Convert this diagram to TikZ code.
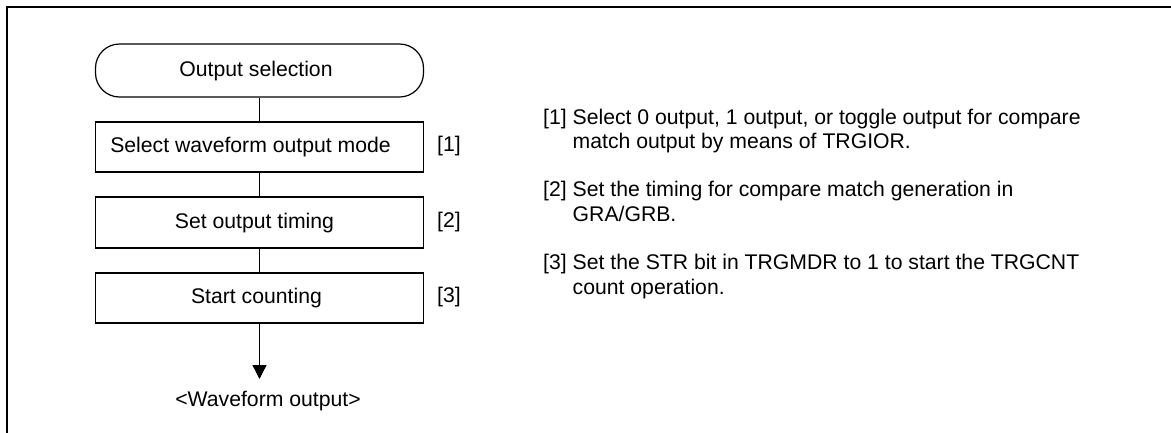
\documentclass[tikz,border=0pt]{standalone}
\usepackage{fontspec}
\setmainfont{Liberation Sans}
\usetikzlibrary{arrows.meta}
\begin{document}
\begin{tikzpicture}[x=1pt,y=-1pt,
  every node/.style={font=\fontsize{21.2}{24}\selectfont, inner sep=0pt},
  box/.style={draw, line width=1.2pt, minimum width=328pt, text height=15.5pt, text depth=4.5pt},
  term/.style={box, rounded corners=24pt, minimum height=53pt},
  stepbox/.style={box, minimum height=50pt},
  conn/.style={line width=1.3pt},
  rtxt/.style={anchor=base west}]
\useasboundingbox (0,0) rectangle (1171,432);
% frame
\draw[line width=1.8pt] (1200,7) -| (7,460);
% flowchart
\node[term] (t0) at (259.5,70.5) {Output selection\hspace*{7pt}};
\node[stepbox] (b1) at (259.5,147) {Select waveform output mode\hspace*{18pt}};
\node[stepbox, minimum height=51pt] (b2) at (259.5,222.5) {Set output timing\hspace*{10pt}};
\node[stepbox] (b3) at (259.5,298) {Start counting\hspace*{6pt}};
\draw[conn] (t0.south) -- (b1.north);
\draw[conn] (b1.south) -- (b2.north);
\draw[conn] (b2.south) -- (b3.north);
\coordinate (tip) at (259.5,379);
\draw[conn,-{Triangle[width=14pt,length=14pt]}] (b3.south) -- (tip);
\node[anchor=base] (wave) at (268,406) {<Waveform output>};
% step labels
\node (l1) at (449,146.5) {[1]};
\node (l2) at (449,222) {[2]};
\node (l3) at (449,297.5) {[3]};
% descriptions
\node[rtxt] (n1) at (543,124) {[1]};
\node[rtxt] (d1a) at (572.5,124) {Select 0 output, 1 output, or toggle output for compare};
\node[rtxt] (d1b) at (572.5,148.3) {match output by means of TRGIOR.};
\node[rtxt] (n2) at (543,196.9) {[2]};
\node[rtxt] (d2a) at (572.5,196.9) {Set the timing for compare match generation in};
\node[rtxt] (d2b) at (572.5,221.2) {GRA/GRB.};
\node[rtxt] (n3) at (543,269.8) {[3]};
\node[rtxt] (d3a) at (572.5,269.8) {Set the STR bit in TRGMDR to 1 to start the TRGCNT};
\node[rtxt] (d3b) at (572.5,294.1) {count operation.};
\end{tikzpicture}
\end{document}
